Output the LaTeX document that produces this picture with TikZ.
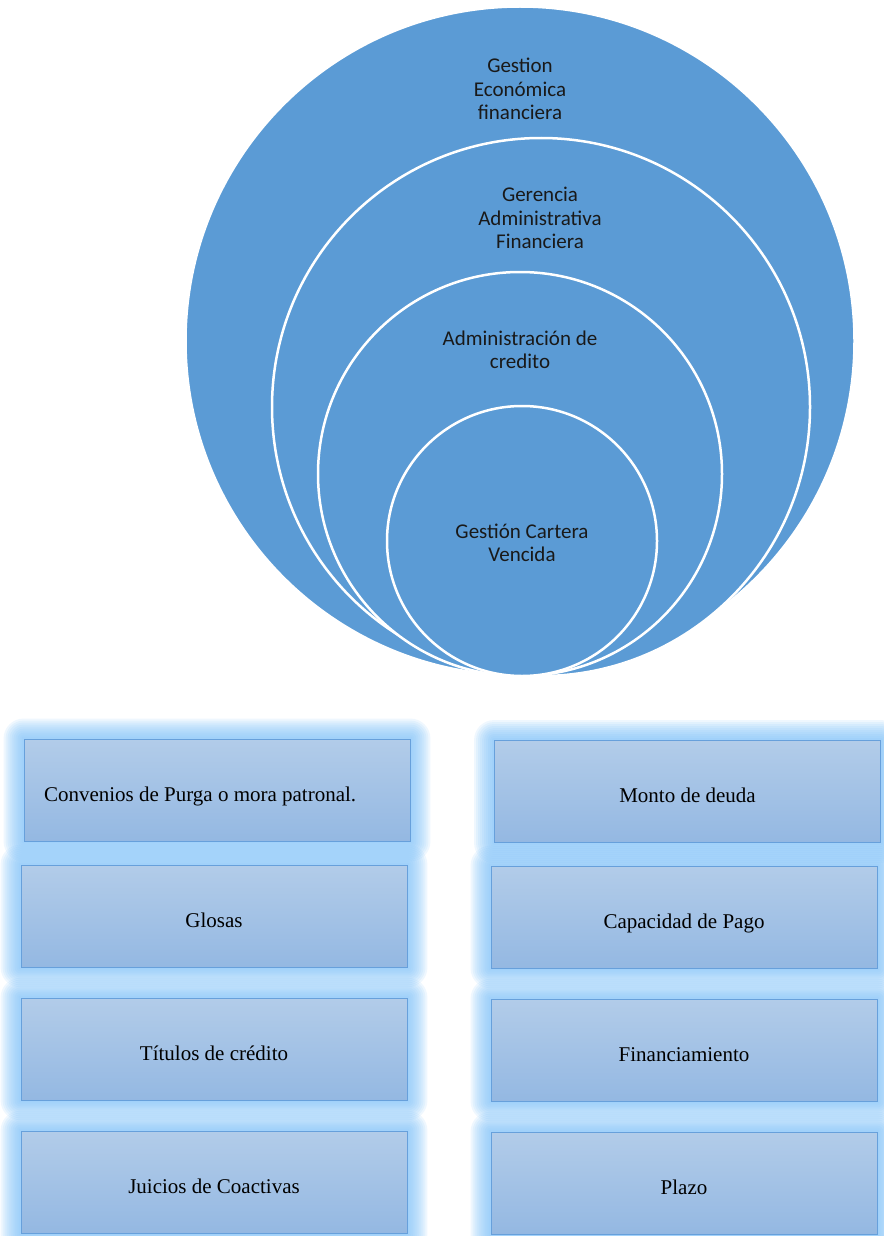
\documentclass[tikz,border=0pt]{standalone}
\usepackage{fontspec}
\setmainfont{Liberation Serif}
\newfontfamily\calibri{Carlito}
\usetikzlibrary{backgrounds}
\definecolor{ringblue}{RGB}{91,155,213}
\definecolor{boxtop}{RGB}{178,204,233}
\definecolor{boxbot}{RGB}{148,184,226}
\definecolor{boxline}{RGB}{103,160,219}
\definecolor{glowblue}{RGB}{125,192,248}
\definecolor{ringtext}{RGB}{25,25,25}

\begin{document}
\begin{tikzpicture}[x=1pt,y=1pt]
	\tikzstyle{c_i} = [circle, draw=white, line width=2.5pt, fill=ringblue, inner sep=0pt]
\tikzstyle{t_i} = [font=\calibri\fontsize{21}{23.5}\selectfont, text=ringtext, align=center]
\tikzstyle{box_i} = [rectangle, draw=boxline, line width=0.9pt, top color=boxtop, bottom color=boxbot, minimum width=386pt, minimum height=102pt, inner sep=0pt, text height=22pt, text depth=0pt, font=\fontsize{21}{25}\selectfont]
\tikzstyle{glow} = [fill=glowblue, fill opacity=0.12]
\def\lx{214}
\def\rx{684}

\useasboundingbox (0,0) rectangle (883,-1236);

%nested circles
\foreach \name/\x/\y/\d in {c_1/520/-341/669, c_2/541/-407/538, c_3/520/-474/404, c_4/522/-541/270}
  	\node[c_i, minimum size=\d pt] (\name) at (\x,\y) {};

\node[t_i] (t_1) at (520,-89) {Gestion\\Económica\\financiera};
\node[t_i] (t_2) at (540,-218) {Gerencia\\Administrativa\\Financiera};
\node[t_i] (t_3) at (520,-350) {Administración de\\credito};
\node[t_i] (t_4) at (522,-543) {Gestión Cartera\\Vencida};

%left column
\node[box_i, text width=346pt, align=flush left] (a_1) at (217,-790) {Convenios de Purga o mora patronal.};
\foreach \name/\y/\txt in {a_2/-916/Glosas, a_3/-1049/Títulos de crédito, a_4/-1182/Juicios de Coactivas}
  	\node[box_i] (\name) at (\lx,\y) {\txt};

%right column
\node[box_i] (b_1) at (687.5,-791.5) {Monto de deuda};
\foreach \name/\y/\txt in {b_2/-917/Capacidad de Pago, b_3/-1050/Financiamiento, b_4/-1183/Plazo}
  	\node[box_i] (\name) at (\rx,\y) {\txt};

% glow behind the boxes
\begin{scope}[on background layer]
\foreach \b in {a_1,a_2,a_3,a_4,b_1,b_2,b_3,b_4}
	\foreach \g in {2,4,...,20}
		\fill[glow, rounded corners=\g pt] ([xshift=-\g pt, yshift=-\g pt]\b.south west) rectangle ([xshift=\g pt, yshift=\g pt]\b.north east);
\end{scope}
\end{tikzpicture}
\end{document}
